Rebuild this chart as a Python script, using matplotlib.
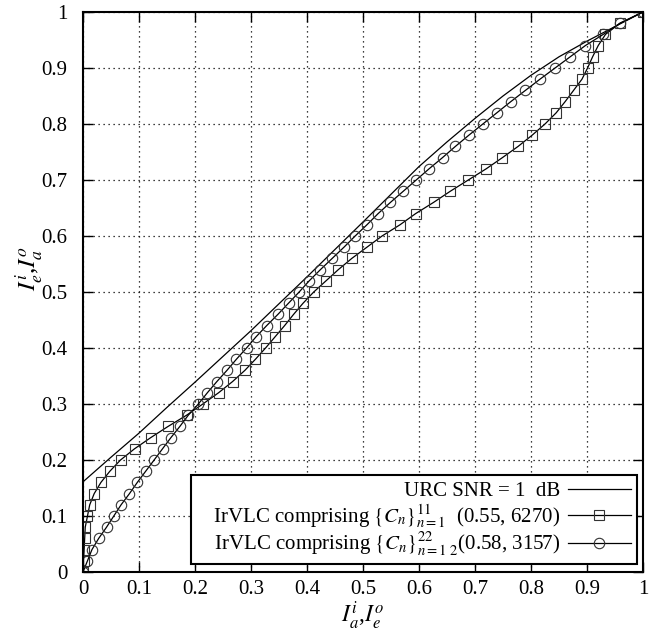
import matplotlib
matplotlib.use('Agg')
from matplotlib import pyplot as plt

plt.rcParams['font.family'] = ['Liberation Serif', 'DejaVu Serif']
plt.rcParams['mathtext.fontset'] = 'stix'

# URC inner curve (I_a^i -> I_e^i)
urcX = [0, 0.05, 0.1, 0.15, 0.2, 0.3, 0.4, 0.5, 0.6, 0.65, 0.7, 0.75, 0.8, 0.85, 0.9, 0.95, 1.0]
urcY = [0.161, 0.205, 0.248, 0.294, 0.339, 0.431, 0.527, 0.625, 0.724, 0.768, 0.810, 0.850, 0.887, 0.920, 0.948, 0.974, 1.0]

# outer IrVLC curves, I_a^o levels
ia = [0.00, 0.02, 0.04, 0.06, 0.08, 0.10, 0.12, 0.14, 0.16, 0.18,
      0.20, 0.22, 0.24, 0.26, 0.28, 0.30, 0.32, 0.34, 0.36, 0.38,
      0.40, 0.42, 0.44, 0.46, 0.48, 0.50, 0.52, 0.54, 0.56, 0.58,
      0.60, 0.62, 0.64, 0.66, 0.68, 0.70, 0.72, 0.74, 0.76, 0.78,
      0.80, 0.82, 0.84, 0.86, 0.88, 0.90, 0.92, 0.94, 0.96, 0.98, 1.00]

ieSq = [0, 0.001, 0.002, 0.003, 0.004, 0.008, 0.012, 0.020, 0.032, 0.048,
        0.067, 0.092, 0.121, 0.152, 0.185, 0.214, 0.242, 0.267, 0.289, 0.308,
        0.326, 0.343, 0.360, 0.376, 0.393, 0.412, 0.434, 0.456, 0.480, 0.507,
        0.534, 0.566, 0.594, 0.626, 0.656, 0.688, 0.720, 0.749, 0.777, 0.802,
        0.825, 0.845, 0.861, 0.876, 0.891, 0.901, 0.910, 0.920, 0.933, 0.959, 1.0]

ieCi = [0, 0.008, 0.016, 0.028, 0.042, 0.055, 0.068, 0.083, 0.097, 0.112,
        0.127, 0.142, 0.157, 0.173, 0.188, 0.206, 0.222, 0.239, 0.257, 0.274,
        0.292, 0.309, 0.328, 0.348, 0.367, 0.386, 0.404, 0.424, 0.445, 0.466,
        0.486, 0.507, 0.527, 0.549, 0.572, 0.595, 0.618, 0.642, 0.665, 0.689,
        0.714, 0.739, 0.764, 0.790, 0.816, 0.843, 0.870, 0.897, 0.929, 0.959, 1.0]

ticks = [0, 0.1, 0.2, 0.3, 0.4, 0.5, 0.6, 0.7, 0.8, 0.9, 1]
tickLabels = ['0', '0.1', '0.2', '0.3', '0.4', '0.5', '0.6', '0.7', '0.8', '0.9', '1']

fig = plt.figure(figsize=(6.64, 6.31), dpi=100)
ax = fig.add_axes([83/664, 59/631, 560/664, 560/631])

ax.plot(urcX, urcY, color='k', lw=0.9, label='URC SNR = 1  dB')
ax.plot(ieSq, ia, color='k', lw=0.9, marker='s', ms=7, mfc='none', mec='#333333', mew=0.8,
        label=r'   IrVLC comprising $\{C_n\}_{n=1}^{11}$  (0.55, 6270)')
ax.plot(ieCi, ia, color='k', lw=0.9, marker='o', ms=7.5, mfc='none', mec='#333333', mew=0.8,
        label=r'   IrVLC comprising $\{C_n\}_{n=1\ 2}^{22}$(0.58, 3157)')

ax.set_xlim(0, 1)
ax.set_ylim(0, 1)
ax.set_xticks(ticks)
ax.set_yticks(ticks)
ax.set_xticklabels(tickLabels)
ax.set_yticklabels(tickLabels)
ax.tick_params(direction='in', length=7, width=1, top=True, right=True, labelsize=15)
ax.tick_params(axis='x', pad=6)
ax.tick_params(axis='y', pad=11)
ax.grid(True, color='k', linestyle=(0, (1, 3)), linewidth=0.9)
for s in ax.spines.values():
    s.set_linewidth(1.5)

ax.set_xlabel(r'$I_a^i$,$I_e^o$', fontsize=17)
ax.set_ylabel(r'$I_e^i$,$I_a^o$', fontsize=18)
ax.xaxis.set_label_coords(0.5, -0.05)
ax.yaxis.set_label_coords(-0.066, 0.541)

leg = ax.legend(loc='lower right', bbox_to_anchor=(0.989, 0.014), borderaxespad=0,
                markerfirst=False, fancybox=False, framealpha=1, edgecolor='k',
                fontsize=15, handlelength=3.0, handletextpad=0.4, labelspacing=0.05,
                borderpad=0.3)
leg.get_frame().set_linewidth(1.5)

plt.savefig('out.png', dpi=100)
